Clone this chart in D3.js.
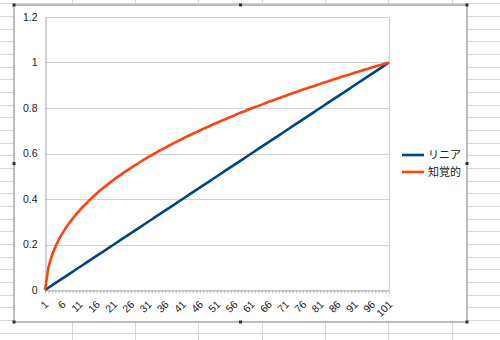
<!DOCTYPE html>
<html><head><meta charset="utf-8">
<script src="https://cdn.jsdelivr.net/npm/d3@7"></script>
<style>
html,body{margin:0;padding:0;background:#fff;}
svg{display:block;}
</style></head>
<body>
<svg id="chart" width="500" height="340"></svg>
<script>
// ---- data ----
const categories = d3.range(1, 102); // 1..101
const seriesNames = ["リニア", "知覚的"];
const linearValues = [0,0.01,0.02,0.03,0.04,0.05,0.06,0.07,0.08,0.09,0.1,0.11,0.12,0.13,0.14,0.15,0.16,0.17,0.18,0.19,0.2,0.21,0.22,0.23,0.24,0.25,0.26,0.27,0.28,0.29,0.3,0.31,0.32,0.33,0.34,0.35,0.36,0.37,0.38,0.39,0.4,0.41,0.42,0.43,0.44,0.45,0.46,0.47,0.48,0.49,0.5,0.51,0.52,0.53,0.54,0.55,0.56,0.57,0.58,0.59,0.6,0.61,0.62,0.63,0.64,0.65,0.66,0.67,0.68,0.69,0.7,0.71,0.72,0.73,0.74,0.75,0.76,0.77,0.78,0.79,0.8,0.81,0.82,0.83,0.84,0.85,0.86,0.87,0.88,0.89,0.9,0.91,0.92,0.93,0.94,0.95,0.96,0.97,0.98,0.99,1];
const perceptualValues = [0,0.100,0.152,0.190,0.221,0.248,0.272,0.293,0.313,0.332,0.349,0.366,0.381,0.396,0.410,0.424,0.437,0.449,0.461,0.473,0.485,0.496,0.506,0.517,0.527,0.537,0.547,0.556,0.566,0.575,0.584,0.593,0.601,0.610,0.618,0.626,0.634,0.642,0.650,0.658,0.665,0.673,0.680,0.687,0.694,0.701,0.708,0.715,0.722,0.729,0.735,0.742,0.748,0.755,0.761,0.767,0.774,0.780,0.786,0.792,0.798,0.804,0.809,0.815,0.821,0.827,0.832,0.838,0.843,0.849,0.854,0.860,0.865,0.870,0.876,0.881,0.886,0.891,0.896,0.901,0.906,0.911,0.916,0.921,0.926,0.931,0.936,0.941,0.945,0.950,0.955,0.959,0.964,0.969,0.973,0.978,0.982,0.987,0.991,0.996,1];
const yTicks = [0, 0.2, 0.4, 0.6, 0.8, 1, 1.2];
const yTickLabels = ["0", "0.2", "0.4", "0.6", "0.8", "1", "1.2"];
const xLabelCategories = categories.filter(c => (c - 1) % 5 === 0);

// ---- drawing ----
const svg = d3.select("#chart");
const W = 500, H = 340;

// spreadsheet background grid
const bg = svg.append("g");
const rowYs = d3.range(3.3, H, 12.67);
bg.selectAll("line.row").data(rowYs).enter().append("line")
  .attr("x1", 0).attr("x2", W).attr("y1", d => Math.round(d) + 0.5).attr("y2", d => Math.round(d) + 0.5)
  .attr("stroke", "#d6d6d6").attr("stroke-width", 1);
const colXs = [72, 135, 198, 262, 325, 388, 452];
bg.selectAll("line.col").data(colXs).enter().append("line")
  .attr("x1", d => d + 0.5).attr("x2", d => d + 0.5).attr("y1", 0).attr("y2", H)
  .attr("stroke", "#d6d6d6").attr("stroke-width", 1);

// chart frame
const frame = {x: 14, y: 5, w: 453, h: 317};
svg.append("rect").attr("x", frame.x).attr("y", frame.y).attr("width", frame.w).attr("height", frame.h)
  .attr("fill", "#fff").attr("stroke", "#a9aeab").attr("stroke-width", 1.6);

// selection handles
const handles = [[frame.x, frame.y], [frame.x + frame.w / 2, frame.y], [frame.x + frame.w, frame.y],
  [frame.x, frame.y + frame.h / 2], [frame.x + frame.w, frame.y + frame.h / 2],
  [frame.x, frame.y + frame.h], [frame.x + frame.w / 2, frame.y + frame.h], [frame.x + frame.w, frame.y + frame.h]];
svg.selectAll("rect.h").data(handles).enter().append("rect")
  .attr("x", d => d[0] - 1.5).attr("y", d => d[1] - 1.5).attr("width", 3).attr("height", 3)
  .attr("fill", "#1f3b2c");

// scales
const plot = {left: 45, right: 389, top: 17, bottom: 290};
const x = d3.scalePoint().domain(categories).range([plot.left, plot.right]);
const y = d3.scaleLinear().domain([0, 1.2]).range([plot.bottom, plot.top]);

// gridlines
const g = svg.append("g");
g.selectAll("line.grid").data(yTicks).enter().append("line")
  .attr("x1", plot.left).attr("x2", plot.right)
  .attr("y1", d => Math.round(y(d)) + 0.5).attr("y2", d => Math.round(y(d)) + 0.5)
  .attr("stroke", "#d3d3d3").attr("stroke-width", 1.2);
// plot right border
g.append("line").attr("x1", plot.right + 0.5).attr("x2", plot.right + 0.5)
  .attr("y1", plot.top).attr("y2", plot.bottom).attr("stroke", "#d3d3d3").attr("stroke-width", 1.2);

// y axis
const yAxis = d3.axisLeft(y).tickValues(yTicks).tickSize(0).tickPadding(8)
  .tickFormat((d, i) => yTickLabels[i]);
const ya = svg.append("g").attr("transform", `translate(${plot.left + 0.5},0)`).call(yAxis);
ya.select(".domain").attr("stroke", "#b3b3b3").attr("stroke-width", 1.2);
ya.selectAll("text").attr("font-family", "'Liberation Sans', Arial, sans-serif").attr("font-size", 10.5).attr("fill", "#222");

// x axis
const xAxis = d3.axisBottom(x).tickSize(3).tickSizeOuter(0).tickFormat(d => xLabelCategories.includes(d) ? String(d) : "");
const xa = svg.append("g").attr("transform", `translate(0,${Math.round(plot.bottom) + 0.5})`).call(xAxis);
xa.select(".domain").attr("stroke", "#b3b3b3").attr("stroke-width", 1.2);
xa.selectAll(".tick line").attr("stroke", "#b3b3b3").attr("stroke-width", 0.8);
xa.selectAll(".tick text")
  .attr("font-family", "'Liberation Sans', Arial, sans-serif").attr("font-size", 10.5).attr("fill", "#222")
  .attr("text-anchor", "end").attr("y", 0).attr("dy", "0.35em")
  .attr("transform", "translate(1,12) rotate(-45)");

// lines
const colors = ["#004586", "#ff420e"];
const seriesValues = [linearValues, perceptualValues];
const line = d3.line().x((d, i) => x(categories[i])).y(d => y(d));
svg.selectAll("path.series").data(seriesValues).enter().append("path")
  .attr("d", d => line(d)).attr("fill", "none")
  .attr("stroke", (d, i) => colors[i]).attr("stroke-width", 2.6).attr("stroke-linejoin", "round");

// legend
const lg = svg.append("g").attr("transform", "translate(402,155)");
const items = lg.selectAll("g").data(seriesNames).enter().append("g")
  .attr("transform", (d, i) => `translate(0,${i * 17})`);
items.append("line").attr("x1", 0).attr("x2", 22).attr("y1", 0).attr("y2", 0)
  .attr("stroke", (d, i) => colors[i]).attr("stroke-width", 2.6);
items.append("text").attr("x", 26).attr("y", 0).attr("dy", "0.36em")
  .attr("font-family", "'Noto Sans CJK JP', sans-serif").attr("font-size", 11).attr("fill", "#222")
  .text(d => d);
</script>
</body></html>
